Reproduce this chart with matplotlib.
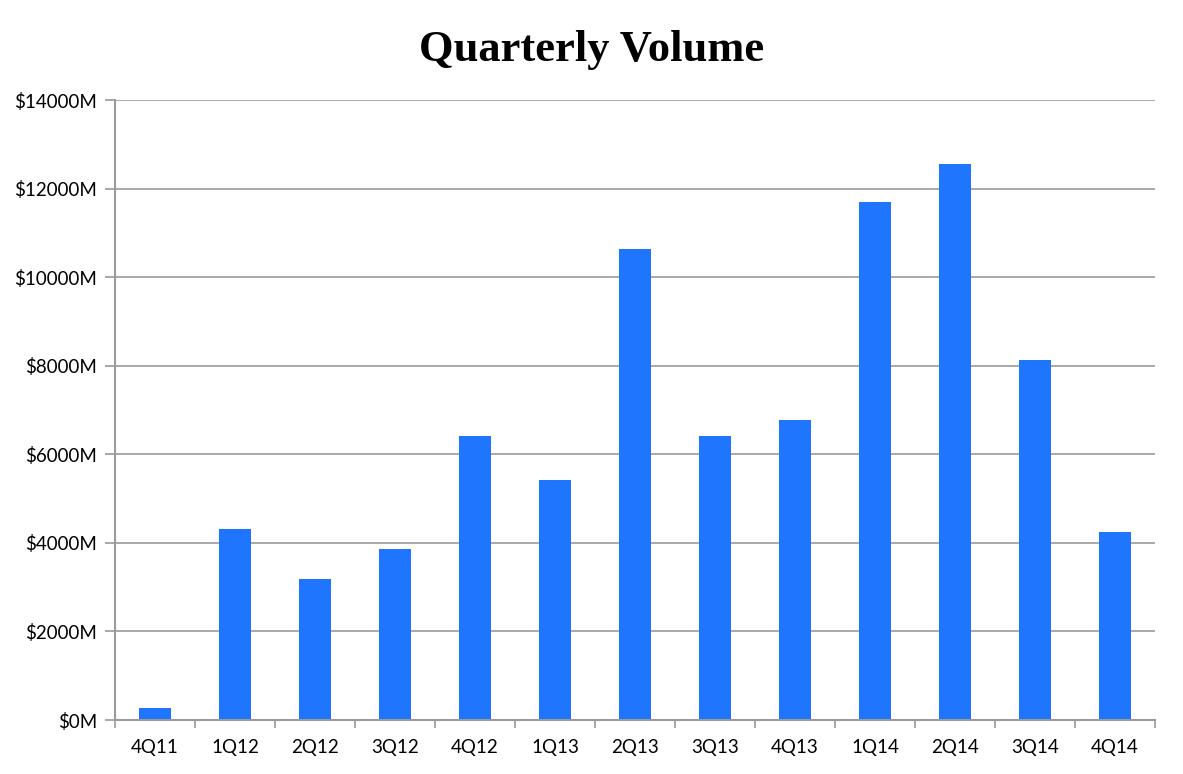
import matplotlib
matplotlib.use("Agg")
from matplotlib import pyplot as plt
from matplotlib.ticker import FixedLocator, FuncFormatter

quarters = ["4Q11", "1Q12", "2Q12", "3Q12", "4Q12", "1Q13", "2Q13",
            "3Q13", "4Q13", "1Q14", "2Q14", "3Q14", "4Q14"]
volumes = [270, 4310, 3180, 3860, 6410, 5420, 10640,
           6410, 6770, 11700, 12560, 8130, 4250]
yTicks = [0, 2000, 4000, 6000, 8000, 10000, 12000, 14000]

GRIS = "#9a9a9a"
BLEU = "#1f75fe"

fig = plt.figure(figsize=(11.83, 7.74), dpi=100)
ax = fig.add_axes([115 / 1183, 54 / 774, 1040 / 1183, 620 / 774])

x = list(range(len(quarters)))
ax.bar(x, volumes, width=0.4, color=BLEU, zorder=3)

ax.set_xlim(-0.5, len(quarters) - 0.5)
ax.set_ylim(0, 14000)

ax.yaxis.set_major_locator(FixedLocator(yTicks))
ax.yaxis.set_major_formatter(FuncFormatter(lambda v, p: f"${int(v)}M"))
ax.grid(axis="y", color=GRIS, linewidth=1.2, zorder=0)

ax.set_xticks(x)
ax.set_xticklabels(quarters)
ax.set_xticks([i - 0.5 for i in range(len(quarters) + 1)], minor=True)
ax.tick_params(axis="x", which="major", length=0, pad=14)
ax.tick_params(axis="x", which="minor", length=6, color=GRIS, width=1.2, direction="out")
ax.tick_params(axis="y", length=7, color=GRIS, width=1.2, direction="out", pad=6)

for lab in ax.get_xticklabels() + ax.get_yticklabels():
	lab.set_fontfamily("Lato")
	lab.set_fontsize(13.5)

for cote in ["top", "right"]:
	ax.spines[cote].set_visible(False)
for cote in ["left", "bottom"]:
	ax.spines[cote].set_color(GRIS)
	ax.spines[cote].set_linewidth(1.5)
	ax.spines[cote].set_zorder(4)

fig.text(0.5, 0.935, "Quarterly Volume", ha="center", va="center",
         fontsize=32, fontweight="bold", fontfamily="Liberation Serif")

fig.savefig("out.png", dpi=100)
